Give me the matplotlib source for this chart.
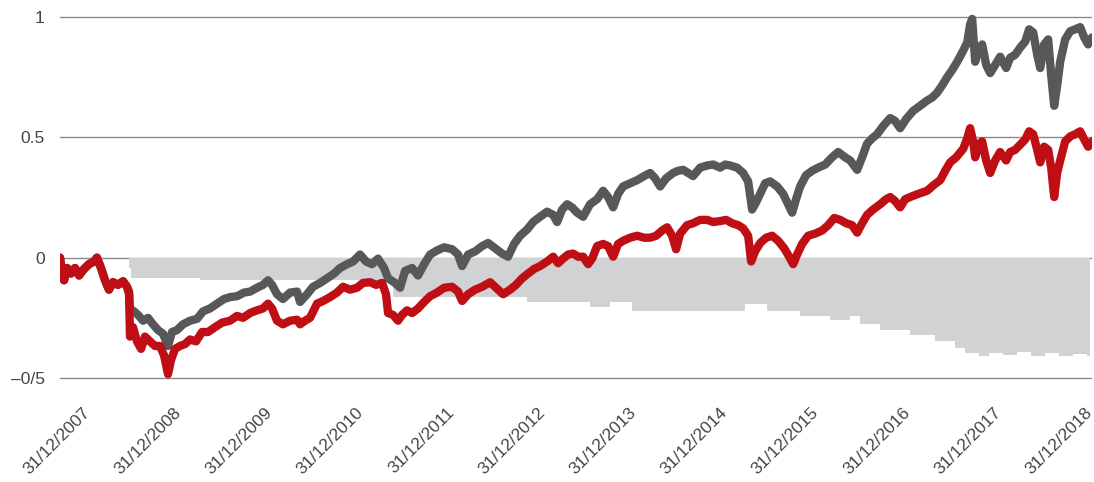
import numpy as np
import matplotlib
matplotlib.use("Agg")
import matplotlib.pyplot as plt

# ---- data (x = years elapsed since 31/12/2007) ----
early_x = [0.000, 0.021, 0.043, 0.075, 0.117, 0.160, 0.203, 0.256, 0.309, 0.362,
           0.394, 0.437, 0.480, 0.522, 0.565, 0.618, 0.672, 0.714]
early_v = [0.000, -0.055, -0.094, -0.043, -0.066, -0.043, -0.074, -0.047, -0.027, -0.016,
           0.000, -0.043, -0.094, -0.133, -0.102, -0.113, -0.098, -0.121]

red_x = early_x + [
    0.736, 0.746, 0.778, 0.821, 0.864, 0.906, 0.959, 1.013, 1.066, 1.109, 1.151, 1.183, 1.226,
    1.279, 1.333, 1.386, 1.450, 1.514, 1.578, 1.652, 1.727, 1.812, 1.887, 1.951, 2.026, 2.100,
    2.164, 2.217, 2.260, 2.313, 2.377, 2.452, 2.527, 2.559, 2.612, 2.665, 2.740, 2.804, 2.878,
    2.953, 3.017, 3.092, 3.166, 3.230, 3.305, 3.369, 3.433, 3.475, 3.497, 3.550, 3.603, 3.646,
    3.699, 3.753, 3.817, 3.881, 3.945, 4.019, 4.094, 4.179, 4.243, 4.286, 4.350, 4.424, 4.499,
    4.584, 4.648, 4.723, 4.797, 4.861, 4.925, 4.989, 5.053, 5.117, 5.192, 5.256, 5.309, 5.362,
    5.416, 5.469, 5.522, 5.576, 5.629, 5.672, 5.725, 5.789, 5.842, 5.896, 5.949, 6.002, 6.077,
    6.151, 6.226, 6.290, 6.354, 6.418, 6.471, 6.525, 6.567, 6.610, 6.684, 6.748, 6.823, 6.898,
    6.962, 7.036, 7.100, 7.164, 7.228, 7.281, 7.335, 7.367, 7.409, 7.463, 7.527, 7.591, 7.655,
    7.719, 7.772, 7.815, 7.857, 7.910, 7.974, 8.049, 8.124, 8.188, 8.252, 8.316, 8.380, 8.443,
    8.497, 8.550, 8.603, 8.667, 8.742, 8.806, 8.849, 8.902, 8.955, 9.009, 9.062, 9.147, 9.243,
    9.307, 9.382, 9.435, 9.488, 9.552, 9.627, 9.670, 9.701, 9.733, 9.755, 9.797, 9.829, 9.872,
    9.915, 9.968, 10.021, 10.085, 10.128, 10.181, 10.235, 10.288, 10.330, 10.373, 10.416,
    10.448, 10.490, 10.533, 10.565, 10.597, 10.629, 10.661, 10.714, 10.768, 10.821, 10.874,
    10.917, 10.959, 11.000]
red_v = early_v + [
    -0.152, -0.328, -0.289, -0.348, -0.379, -0.328, -0.348, -0.367, -0.367, -0.406, -0.484,
    -0.426, -0.379, -0.367, -0.359, -0.340, -0.348, -0.309, -0.309, -0.289, -0.270, -0.262,
    -0.242, -0.250, -0.230, -0.219, -0.211, -0.191, -0.211, -0.262, -0.277, -0.262, -0.258,
    -0.277, -0.262, -0.250, -0.191, -0.180, -0.164, -0.145, -0.121, -0.133, -0.125, -0.105,
    -0.102, -0.113, -0.105, -0.152, -0.230, -0.238, -0.262, -0.238, -0.219, -0.230, -0.211,
    -0.184, -0.160, -0.145, -0.125, -0.121, -0.141, -0.180, -0.152, -0.133, -0.121, -0.102,
    -0.125, -0.152, -0.133, -0.113, -0.086, -0.066, -0.047, -0.035, -0.016, 0.004, -0.023,
    -0.004, 0.013, 0.017, 0.004, 0.004, -0.027, -0.004, 0.048, 0.057, 0.048, 0.004, 0.057,
    0.070, 0.083, 0.091, 0.083, 0.083, 0.091, 0.113, 0.126, 0.091, 0.035, 0.100, 0.135, 0.143,
    0.157, 0.157, 0.148, 0.152, 0.157, 0.143, 0.135, 0.122, 0.091, -0.016, 0.026, 0.061, 0.083,
    0.091, 0.070, 0.039, 0.004, -0.027, 0.013, 0.057, 0.091, 0.100, 0.113, 0.135, 0.165, 0.157,
    0.143, 0.135, 0.104, 0.143, 0.178, 0.200, 0.222, 0.243, 0.252, 0.235, 0.209, 0.243, 0.252,
    0.265, 0.278, 0.300, 0.322, 0.361, 0.396, 0.417, 0.452, 0.496, 0.538, 0.483, 0.417, 0.474,
    0.483, 0.404, 0.352, 0.404, 0.439, 0.404, 0.439, 0.448, 0.470, 0.491, 0.525, 0.513, 0.448,
    0.396, 0.461, 0.448, 0.374, 0.252, 0.352, 0.404, 0.483, 0.504, 0.513, 0.525, 0.491, 0.461,
    0.483]

grey_x = early_x + [
    0.736, 0.746, 0.789, 0.832, 0.885, 0.938, 0.991, 1.045, 1.098, 1.151, 1.194, 1.247, 1.311,
    1.386, 1.461, 1.525, 1.599, 1.674, 1.748, 1.812, 1.887, 1.962, 2.026, 2.100, 2.164, 2.217,
    2.260, 2.313, 2.377, 2.452, 2.527, 2.559, 2.633, 2.697, 2.772, 2.846, 2.921, 2.985, 3.060,
    3.124, 3.198, 3.262, 3.326, 3.390, 3.454, 3.497, 3.571, 3.625, 3.678, 3.753, 3.817, 3.881,
    3.945, 4.019, 4.094, 4.179, 4.243, 4.286, 4.350, 4.424, 4.499, 4.563, 4.638, 4.712, 4.776,
    4.840, 4.904, 4.979, 5.043, 5.117, 5.192, 5.256, 5.299, 5.352, 5.405, 5.458, 5.512, 5.576,
    5.650, 5.725, 5.789, 5.842, 5.896, 5.949, 6.002, 6.077, 6.151, 6.226, 6.290, 6.343, 6.397,
    6.461, 6.535, 6.588, 6.642, 6.695, 6.748, 6.823, 6.898, 6.962, 7.036, 7.090, 7.143, 7.217,
    7.281, 7.335, 7.377, 7.420, 7.463, 7.516, 7.569, 7.644, 7.708, 7.761, 7.804, 7.846, 7.889,
    7.953, 8.017, 8.081, 8.156, 8.230, 8.294, 8.369, 8.422, 8.497, 8.550, 8.603, 8.657, 8.710,
    8.774, 8.849, 8.902, 8.955, 9.019, 9.094, 9.168, 9.243, 9.296, 9.350, 9.403, 9.456, 9.510,
    9.563, 9.616, 9.670, 9.701, 9.723, 9.755, 9.787, 9.829, 9.872, 9.915, 9.968, 10.021,
    10.085, 10.128, 10.181, 10.235, 10.288, 10.330, 10.373, 10.416, 10.448, 10.490, 10.533,
    10.565, 10.597, 10.629, 10.661, 10.714, 10.768, 10.821, 10.874, 10.917, 10.959, 11.000]
grey_v = early_v + [
    -0.140, -0.211, -0.223, -0.238, -0.262, -0.250, -0.277, -0.301, -0.316, -0.367, -0.309,
    -0.301, -0.277, -0.262, -0.254, -0.223, -0.211, -0.191, -0.172, -0.164, -0.160, -0.145,
    -0.141, -0.125, -0.113, -0.094, -0.113, -0.152, -0.172, -0.145, -0.141, -0.184, -0.152,
    -0.121, -0.105, -0.086, -0.066, -0.043, -0.027, -0.016, 0.013, -0.016, -0.027, -0.004,
    -0.043, -0.086, -0.105, -0.125, -0.055, -0.043, -0.074, -0.027, 0.013, 0.030, 0.043,
    0.035, 0.013, -0.035, 0.013, 0.026, 0.048, 0.061, 0.039, 0.017, 0.004, 0.057, 0.091,
    0.117, 0.148, 0.170, 0.191, 0.178, 0.148, 0.200, 0.222, 0.209, 0.187, 0.170, 0.222, 0.243,
    0.278, 0.252, 0.209, 0.265, 0.296, 0.309, 0.322, 0.339, 0.352, 0.330, 0.296, 0.330, 0.352,
    0.361, 0.365, 0.352, 0.339, 0.374, 0.383, 0.387, 0.374, 0.387, 0.383, 0.374, 0.352, 0.317,
    0.200, 0.230, 0.265, 0.309, 0.317, 0.296, 0.265, 0.222, 0.187, 0.243, 0.296, 0.343, 0.361,
    0.374, 0.387, 0.417, 0.439, 0.417, 0.404, 0.365, 0.417, 0.474, 0.496, 0.513, 0.547, 0.580,
    0.568, 0.538, 0.576, 0.610, 0.631, 0.653, 0.665, 0.686, 0.716, 0.750, 0.780, 0.814, 0.852,
    0.894, 0.970, 0.992, 0.814, 0.864, 0.886, 0.801, 0.767, 0.801, 0.835, 0.788, 0.831, 0.843,
    0.873, 0.898, 0.949, 0.936, 0.843, 0.788, 0.886, 0.907, 0.758, 0.631, 0.716, 0.814, 0.907,
    0.941, 0.949, 0.958, 0.915, 0.886, 0.915]

area_x = [0.736, 0.757, 1.493, 3.550, 4.979, 5.650, 5.864, 6.098, 7.303, 7.537, 7.889,
          8.209, 8.422, 8.529, 8.742, 9.062, 9.328, 9.542, 9.648, 9.800, 9.900, 10.050,
          10.200, 10.350, 10.500, 10.650, 10.800, 10.950, 10.980]
area_v = [-0.043, -0.086, -0.094, -0.164, -0.184, -0.203, -0.184, -0.223, -0.191, -0.223,
          -0.242, -0.258, -0.242, -0.277, -0.301, -0.320, -0.348, -0.375, -0.398, -0.410,
          -0.395, -0.405, -0.390, -0.410, -0.395, -0.410, -0.400, -0.410, -0.410]

tick_labels = ["31/12/2007", "31/12/2008", "31/12/2009", "31/12/2010", "31/12/2011",
               "31/12/2012", "31/12/2013", "31/12/2014", "31/12/2015", "31/12/2016",
               "31/12/2017", "31/12/2018"]
y_ticks = [-0.5, 0, 0.5, 1]
y_labels = ["\u20130/5", "0", "0.5", "1"]

# ---- drawing ----
plt.rcParams["font.family"] = ["Liberation Sans", "DejaVu Sans"]
W, H = 1094, 482
fig = plt.figure(figsize=(W / 100, H / 100), dpi=100)
ax = fig.add_axes([60 / W, 1 - 382.8 / H, 1032 / W, 370.6 / H])
ax.set_xlim(0, 11)
ax.set_ylim(-0.52, 1.02)

ax.fill_between(area_x, area_v, 0, step="post", color="#d1d2d4", lw=0, zorder=2)
ax.plot(grey_x, grey_v, color="#58585a", lw=6.0, solid_joinstyle="round",
        solid_capstyle="round", zorder=3)
ax.plot(red_x, red_v, color="#c00f14", lw=6.0, solid_joinstyle="round",
        solid_capstyle="round", zorder=4)

ax.set_yticks(y_ticks)
ax.set_yticklabels(y_labels)
ax.yaxis.grid(True, color="#8a8a8a", lw=1.0, zorder=1)
ax.set_axisbelow(True)
for s in ax.spines.values():
    s.set_visible(False)
ax.tick_params(axis="y", length=0, pad=11, labelsize=12.5, labelcolor="#444444")

xt = np.linspace(0.2345, 0.2345 + 0.9712 * 11, len(tick_labels))
ax.set_xticks(xt)
ax.set_xticklabels(tick_labels, rotation=45, ha="right", va="top",
                   rotation_mode="anchor")
ax.tick_params(axis="x", length=0, pad=16, labelsize=12.5, labelcolor="#444444")

fig.savefig("out.png", dpi=100)
